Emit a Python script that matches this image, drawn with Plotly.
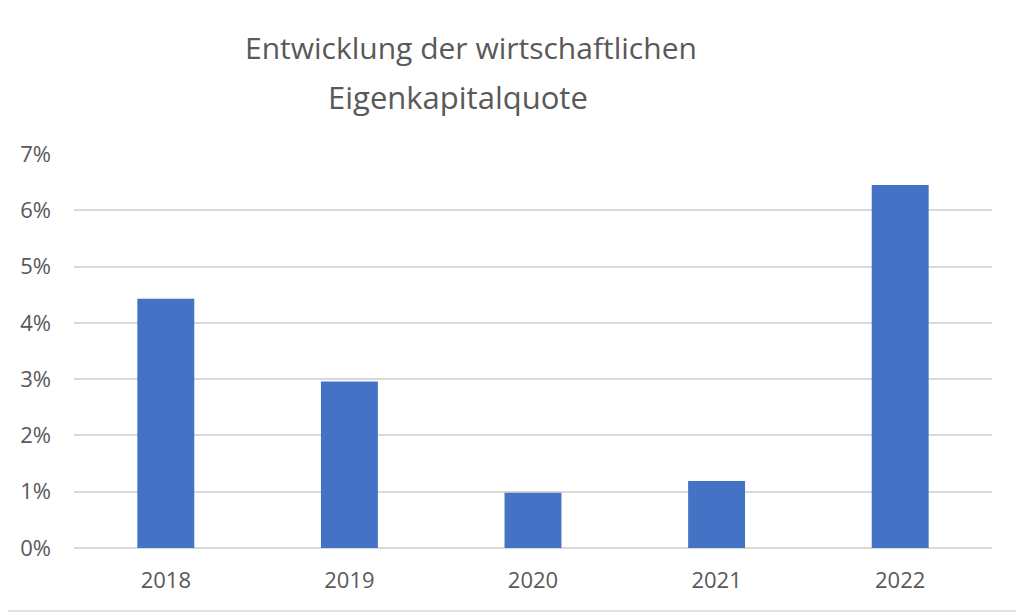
import plotly.graph_objects as go

years = ["2018", "2019", "2020", "2021", "2022"]
quote = [0.0443, 0.0296, 0.0098, 0.0119, 0.0645]
title_lines = ["Entwicklung der wirtschaftlichen", "Eigenkapitalquote"]
y_ticks = [0, 0.01, 0.02, 0.03, 0.04, 0.05, 0.06, 0.07]

# page body has an 8px offset in the screenshot
OFF = 8
W, H = 1024, 615
ml = 74 - OFF
mt = 154 - OFF
mr = (W + OFF) - 992
mb = (H + OFF) - 548
pw, ph = W - ml - mr, H - mt - mb

def px_x(p):
    return (p - OFF - ml) / pw

def px_y(p):
    return (H - mb - (p - OFF)) / ph

font_fam = "Open Sans, Liberation Sans, sans-serif"
txt = "#595959"

fig = go.Figure(go.Bar(x=years, y=quote, marker=dict(color="#4472C4", line=dict(width=0)),
                       hoverinfo="x+y"))

fig.update_layout(
    width=W, height=H,
    margin=dict(l=ml, r=mr, t=mt, b=mb),
    paper_bgcolor="white", plot_bgcolor="white",
    bargap=0.69,
    showlegend=False,
    font=dict(family=font_fam, color=txt, size=22),
    xaxis=dict(showgrid=False, showline=False, ticks="", zeroline=False,
               tickfont=dict(size=22, color=txt), ticklabelstandoff=17),
    yaxis=dict(range=[0, 0.07], tickvals=y_ticks, tickformat=".0%",
               showgrid=True, gridcolor="#D9D9D9", gridwidth=1.5,
               zeroline=True, zerolinecolor="#D9D9D9", zerolinewidth=1.5,
               showline=False, ticks="", tickfont=dict(size=22, color=txt),
               ticklabelstandoff=22),
    annotations=[
        dict(text=title_lines[0], xref="paper", yref="paper", x=px_x(471), y=px_y(48),
             xanchor="center", yanchor="middle", showarrow=False,
             font=dict(size=30, color=txt, family=font_fam)),
        dict(text=title_lines[1], xref="paper", yref="paper", x=px_x(458), y=px_y(97),
             xanchor="center", yanchor="middle", showarrow=False,
             font=dict(size=31, color=txt, family=font_fam)),
    ],
    shapes=[dict(type="rect", xref="paper", yref="paper",
                 x0=px_x(1), x1=px_x(1021), y0=px_y(611), y1=px_y(1),
                 line=dict(color="#D9D9D9", width=1.5), layer="below")],
)

fig.write_html("out.html")
